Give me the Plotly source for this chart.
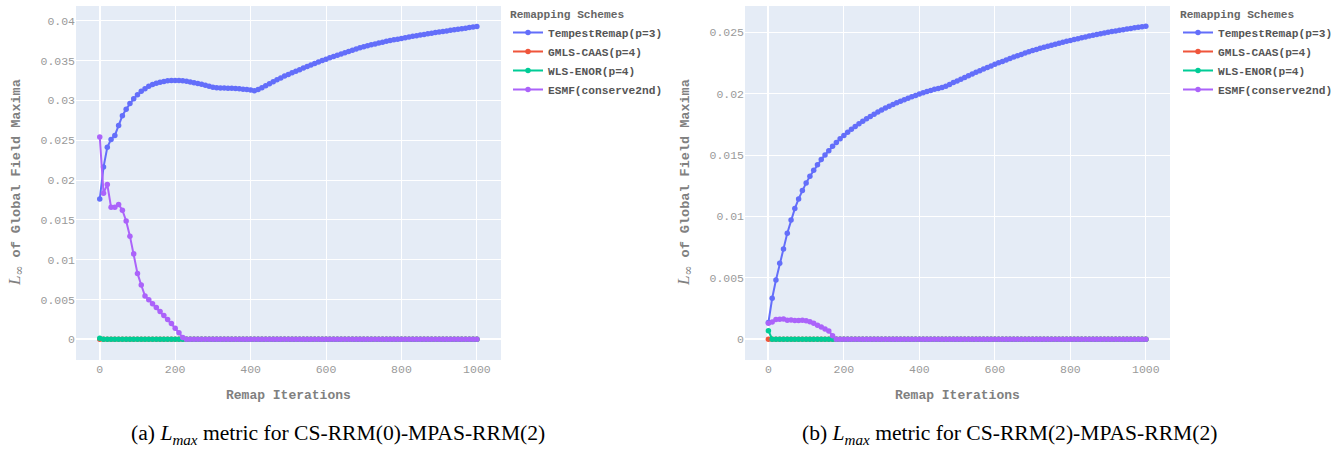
import plotly.graph_objects as go

W, H = 1339, 449

iterations = list(range(0, 1001, 10))

series_names = ["TempestRemap(p=3)", "GMLS-CAAS(p=4)", "WLS-ENOR(p=4)", "ESMF(conserve2nd)"]
series_colors = ["#636efa", "#EF553B", "#00cc96", "#ab63fa"]

# ---- (a) CS-RRM(0)-MPAS-RRM(2) ----
a_tempest = [
    0.01762, 0.02163, 0.02410, 0.02510, 0.02560, 0.02686, 0.02808, 0.02890, 0.02962, 0.03020,
    0.03070, 0.03113, 0.03146, 0.03176, 0.03198, 0.03216, 0.03229, 0.03238, 0.03245, 0.03249,
    0.03250, 0.03249, 0.03245, 0.03239, 0.03231, 0.03222, 0.03212, 0.03201, 0.03189, 0.03177,
    0.03165, 0.03158, 0.03156, 0.03155, 0.03153, 0.03151, 0.03149, 0.03146, 0.03141, 0.03136,
    0.03130, 0.03122, 0.03138, 0.03160, 0.03184, 0.03209, 0.03234, 0.03258, 0.03282, 0.03305,
    0.03326, 0.03347, 0.03367, 0.03386, 0.03405, 0.03424, 0.03443, 0.03462, 0.03481, 0.03500,
    0.03517, 0.03534, 0.03551, 0.03567, 0.03583, 0.03599, 0.03615, 0.03630, 0.03645, 0.03660,
    0.03674, 0.03686, 0.03698, 0.03709, 0.03720, 0.03731, 0.03741, 0.03751, 0.03760, 0.03769,
    0.03778, 0.03787, 0.03796, 0.03804, 0.03812, 0.03820, 0.03828, 0.03836, 0.03844, 0.03851,
    0.03858, 0.03865, 0.03872, 0.03879, 0.03886, 0.03893, 0.03900, 0.03907, 0.03914, 0.03921,
    0.03928,
]
a_gmls = [0.0] * 101
a_wls = [0.00012] + [0.0] * 100
a_esmf = [
    0.02540, 0.01835, 0.01944, 0.01657, 0.01657, 0.01693, 0.01621, 0.01486, 0.01295, 0.01073,
    0.00827, 0.00681, 0.00543, 0.00497, 0.00447, 0.00399, 0.00349, 0.00298, 0.00250, 0.00198,
    0.00140, 0.00081, 0.00022,
] + [0.0] * 78

# ---- (b) CS-RRM(2)-MPAS-RRM(2) ----
b_tempest = [
    0.00136, 0.00334, 0.00483, 0.00619, 0.00736, 0.00863, 0.00972, 0.01064, 0.01143, 0.01211,
    0.01273, 0.01327, 0.01376, 0.01422, 0.01463, 0.01501, 0.01536, 0.01572, 0.01602, 0.01632,
    0.01660, 0.01686, 0.01710, 0.01733, 0.01755, 0.01776, 0.01796, 0.01815, 0.01833, 0.01850,
    0.01867, 0.01883, 0.01898, 0.01912, 0.01926, 0.01939, 0.01951, 0.01963, 0.01975, 0.01986,
    0.01997, 0.02007, 0.02017, 0.02026, 0.02035, 0.02043, 0.02051, 0.02061, 0.02075, 0.02090,
    0.02104, 0.02118, 0.02132, 0.02146, 0.02160, 0.02174, 0.02187, 0.02200, 0.02213, 0.02226,
    0.02239, 0.02251, 0.02263, 0.02275, 0.02287, 0.02298, 0.02309, 0.02320, 0.02331, 0.02341,
    0.02351, 0.02360, 0.02369, 0.02378, 0.02387, 0.02395, 0.02403, 0.02411, 0.02419, 0.02427,
    0.02434, 0.02441, 0.02448, 0.02455, 0.02462, 0.02469, 0.02476, 0.02482, 0.02488, 0.02494,
    0.02500, 0.02506, 0.02511, 0.02516, 0.02521, 0.02526, 0.02531, 0.02536, 0.02541, 0.02545,
    0.02549,
]
b_gmls = [0.0] * 101
b_wls = [0.00070] + [0.0] * 100
b_esmf = [
    0.00130, 0.00141, 0.00160, 0.00163, 0.00164, 0.00155, 0.00157, 0.00153, 0.00152, 0.00154,
    0.00150, 0.00142, 0.00130, 0.00115, 0.00099, 0.00084, 0.00068, 0.00028,
] + [0.0] * 83

captions = [
    "(a) <i>L</i><sub><i>max</i></sub> metric for CS-RRM(0)-MPAS-RRM(2)",
    "(b) <i>L</i><sub><i>max</i></sub> metric for CS-RRM(2)-MPAS-RRM(2)",
]
x_title = "Remap Iterations"
y_title = ('<span style="font-family:Liberation Serif;font-style:italic;font-weight:normal;'
           'font-size:17px">L</span>'
           '<sub><span style="font-family:DejaVu Serif;font-weight:normal;font-size:12px">∞</span></sub>'
           ' of Global Field Maxima')
legend_title = "Remapping Schemes"
x_ticks = [0, 200, 400, 600, 800, 1000]

MONO = "Liberation Mono, Courier New, monospace"


def px_x(p):
    return p / W


def px_y(p):
    return 1 - p / H


fig = go.Figure()

panels = [
    (a_tempest, a_gmls, a_wls, a_esmf),
    (b_tempest, b_gmls, b_wls, b_esmf),
]
for i, panel in enumerate(panels):
    xa = "x" if i == 0 else "x2"
    ya = "y" if i == 0 else "y2"
    lg = "legend" if i == 0 else "legend2"
    for name, color, vals in zip(series_names, series_colors, panel):
        fig.add_trace(go.Scatter(
            x=iterations, y=vals, mode="lines+markers", name=name,
            line=dict(color=color, width=2),
            marker=dict(color=color, size=5.5),
            xaxis=xa, yaxis=ya, legend=lg,
        ))

tick_font = dict(family=MONO, size=11.5, color="#9a9a9a")
axis_common = dict(showgrid=True, gridcolor="white", zeroline=True, zerolinecolor="white",
                   zerolinewidth=2, tickfont=tick_font, automargin=False, showline=False,
                   ticks="")

top, bottom = 6, 360
legend_font = dict(family=MONO, size=11.2, color="#555", weight="bold")
legend_title_font = dict(family=MONO, size=11.2, color="#666", weight="bold")

fig.update_layout(
    width=W, height=H, autosize=False,
    margin=dict(l=0, r=0, t=0, b=0),
    paper_bgcolor="white", plot_bgcolor="#E5ECF6",
    font=dict(family=MONO, color="#7f7f7f"),
    showlegend=True,
    xaxis=dict(domain=[px_x(76), px_x(501)], range=[-63, 1064], anchor="y",
               tickvals=x_ticks, **axis_common),
    yaxis=dict(domain=[px_y(bottom), px_y(top)], range=[-0.0026, 0.04185], anchor="x",
               dtick=0.005, **axis_common),
    xaxis2=dict(domain=[px_x(745), px_x(1170)], range=[-62, 1064], anchor="y2",
                tickvals=x_ticks, **axis_common),
    yaxis2=dict(domain=[px_y(bottom), px_y(top)], range=[-0.00169, 0.02714], anchor="x2",
                dtick=0.005, **axis_common),
    legend=dict(x=px_x(508), y=px_y(3.5), xanchor="left", yanchor="top",
                title=dict(text=legend_title, font=legend_title_font),
                font=legend_font, bgcolor="rgba(0,0,0,0)", tracegroupgap=0),
    legend2=dict(x=px_x(1178), y=px_y(3.5), xanchor="left", yanchor="top",
                 title=dict(text=legend_title, font=legend_title_font),
                 font=legend_font, bgcolor="rgba(0,0,0,0)", tracegroupgap=0),
)

annotations = []
for cx, ycx in [(288.5, 15), (957.5, 684)]:
    annotations.append(dict(text=x_title, x=px_x(cx), y=px_y(395), xref="paper", yref="paper",
                            xanchor="center", yanchor="middle", showarrow=False,
                            font=dict(family=MONO, size=13, color="#808080", weight="bold")))
    annotations.append(dict(text=y_title, x=px_x(ycx), y=px_y(183), xref="paper", yref="paper",
                            xanchor="center", yanchor="middle", showarrow=False, textangle=-90,
                            font=dict(family=MONO, size=13.5, color="#808080", weight="bold")))
for cap, cx in zip(captions, [338, 1010]):
    annotations.append(dict(text=cap, x=px_x(cx), y=px_y(434), xref="paper", yref="paper",
                            xanchor="center", yanchor="middle", showarrow=False,
                            font=dict(family="Liberation Serif, Times New Roman, serif", size=21.6,
                                      color="black")))
fig.update_layout(annotations=annotations)

fig.write_html("out.html", config={"displayModeBar": False},
               post_script="document.body.style.margin='0px';")
